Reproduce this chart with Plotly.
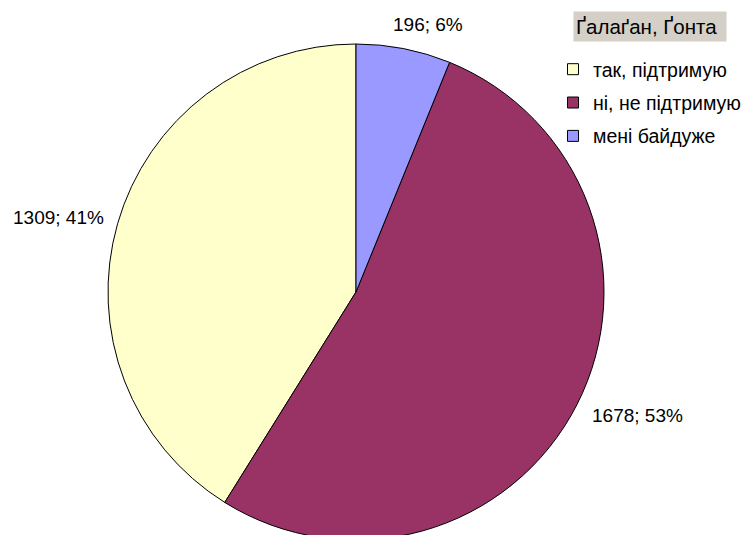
import math
import plotly.graph_objects as go

categories = ["так, підтримую", "ні, не підтримую", "мені байдуже"]
values = [1309, 1678, 196]
colors = ["#FFFFCC", "#993366", "#9999FF"]
legend_title = "Ґалаґан, Ґонта"

W, H = 749, 535
OFF = 8  # page body margin offset
cx, cy, r = 356 - OFF, 292 - OFF, 248
FONT = "Liberation Sans, Arial, sans-serif"
LABEL_FS = 19

total = sum(values)

fig = go.Figure(go.Pie(
    labels=categories,
    values=values,
    marker=dict(colors=colors, line=dict(color="#000000", width=1)),
    sort=False,
    direction="counterclockwise",
    rotation=-(values[0] / total * 360),
    textinfo="none",
    hoverinfo="label+value+percent",
    showlegend=False,
    domain=dict(x=[(cx - r) / W, (cx + r) / W], y=[(H - cy - r) / H, (H - cy + r) / H]),
))

# legend entries (one per category, so their spacing can be set)
for cat, col in zip(categories, colors):
    fig.add_trace(go.Scatter(
        x=[None], y=[None], mode="markers", name=cat, legendgroup=cat,
        marker=dict(symbol="square", size=11, color=col, line=dict(color="#000000", width=1)),
        hoverinfo="skip",
    ))

# data labels, placed outside the slices from their mid angles
acc = 0
annotations = []
for v in reversed(values):  # clockwise from 12 o'clock
    mid = (acc + v / 2) / total * 2 * math.pi
    acc += v
    s, c = math.sin(mid), math.cos(mid)
    rr = r + 16
    px = cx + rr * s
    py = cy - rr * c
    pct = round(v / total * 100)
    text = f"{v}; {pct}%"
    w = len(text) * 0.55 * LABEL_FS
    h = 17
    fx = min(1.0, max(0.0, (1 - s) / 2 - 0.2 * c * c))
    fy = (1 + c) / 2
    left = px - fx * w
    mid_y = py - fy * h + h / 2
    annotations.append(dict(
        x=left / W, y=1 - mid_y / H, xref="paper", yref="paper",
        text=text, showarrow=False, xanchor="left", yanchor="middle",
        font=dict(family=FONT, size=LABEL_FS, color="#000000"),
    ))

annotations.append(dict(
    x=(573 - OFF) / W, y=1 - (11 - OFF) / H, xref="paper", yref="paper",
    text=legend_title, showarrow=False, xanchor="left", yanchor="top",
    bgcolor="#D4D0C8", borderpad=2, width=148, height=25, align="left",
    font=dict(family=FONT, size=20.5, color="#000000"),
))

fig.update_layout(
    width=W, height=H,
    margin=dict(l=0, r=0, t=0, b=0),
    paper_bgcolor="#FFFFFF",
    plot_bgcolor="#FFFFFF",
    font=dict(family=FONT, size=19.5, color="#000000"),
    showlegend=True,
    xaxis=dict(visible=False),
    yaxis=dict(visible=False),
    legend=dict(
        x=(553 - OFF) / W, y=1 - (50 - OFF) / H, xanchor="left", yanchor="top",
        bgcolor="rgba(0,0,0,0)", borderwidth=0,
        font=dict(size=19.5), traceorder="grouped", itemwidth=30,
        tracegroupgap=5,
    ),
    annotations=annotations,
)

fig.write_html("out.html")
